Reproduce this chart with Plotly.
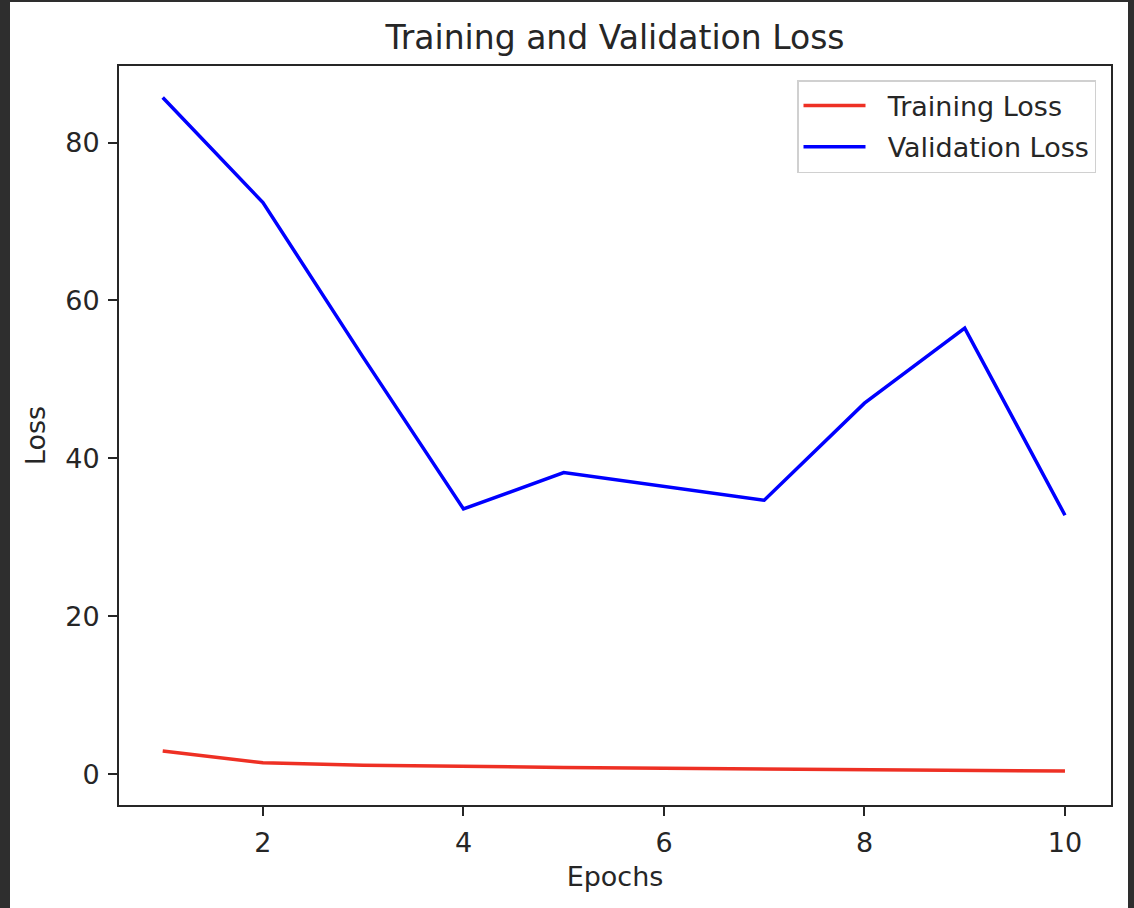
import plotly.graph_objects as go

# Loss values per epoch
epochs = [1, 2, 3, 4, 5, 6, 7, 8, 9, 10]
train_loss = [2.95, 1.45, 1.15, 0.95, 0.85, 0.75, 0.65, 0.55, 0.45, 0.4]
val_loss = [85.7, 72.4, 52.8, 33.6, 38.2, 36.4, 34.7, 47.0, 56.5, 32.8]

x_ticks = [2, 4, 6, 8, 10]
y_ticks = [0, 20, 40, 60, 80]

FONT = "DejaVu Sans"
TXT = "#262626"
W, H = 1134, 908
L, R, T, B = 119, 23, 66, 103
pw, ph = W - L - R, H - T - B


def px_x(p):
    """pixel -> paper x"""
    return (p - L) / pw


def px_y(p):
    """pixel (from top) -> paper y"""
    return 1 - (p - T) / ph


fig = go.Figure()
fig.add_trace(go.Scatter(x=epochs, y=train_loss, mode="lines",
                         name="\u00a0\u00a0Training Loss", legendgroup="train",
                         line=dict(color="#ee3024", width=3.5)))
fig.add_trace(go.Scatter(x=epochs, y=val_loss, mode="lines",
                         name="\u00a0\u00a0Validation Loss", legendgroup="val",
                         line=dict(color="#0000ff", width=3.5)))

axis_common = dict(
    showgrid=False, zeroline=False, showline=True, mirror=True,
    linecolor=TXT, linewidth=1.8,
    ticks="outside", ticklen=9, tickwidth=1.8, tickcolor=TXT,
    tickfont=dict(family=FONT, size=27, color=TXT),
)

fig.update_layout(
    width=W, height=H,
    margin=dict(l=L, r=R, t=T, b=B),
    paper_bgcolor="white", plot_bgcolor="white",
    font=dict(family=FONT, color=TXT),
    title=dict(text="Training and Validation Loss", x=0.5, xref="paper", xanchor="center",
               y=1 - 37 / H, yanchor="middle",
               font=dict(family=FONT, size=33, color=TXT)),
    xaxis=dict(range=[0.564, 10.459], tickvals=x_ticks,
               title=dict(text="Epochs", standoff=10, font=dict(family=FONT, size=27)),
               ticklabelstandoff=4, **axis_common),
    yaxis=dict(range=[-3.9, 89.7], tickvals=y_ticks,
               title=dict(text="Loss", standoff=12, font=dict(family=FONT, size=27)),
               ticklabelstandoff=3, **axis_common),
    legend=dict(x=px_x(1096), xanchor="right", y=px_y(80), yanchor="top",
                bgcolor="rgba(255,255,255,0.8)", bordercolor="#d0d0d0", borderwidth=1.5,
                font=dict(family=FONT, size=27, color=TXT),
                itemwidth=62, tracegroupgap=3),
    showlegend=True,
)

# dark screenshot edges around the figure
edge = "#2e2e2e"
fig.add_shape(type="rect", xref="paper", yref="paper", layer="above",
              x0=px_x(0), x1=px_x(10), y0=px_y(H), y1=px_y(0),
              fillcolor=edge, line=dict(width=0))
fig.add_shape(type="rect", xref="paper", yref="paper", layer="above",
              x0=px_x(1128), x1=px_x(W), y0=px_y(H), y1=px_y(0),
              fillcolor=edge, line=dict(width=0))
fig.add_shape(type="rect", xref="paper", yref="paper", layer="above",
              x0=px_x(0), x1=px_x(W), y0=px_y(2), y1=px_y(0),
              fillcolor=edge, line=dict(width=0))

# drop the default page margin so the figure sits at the window's corner
fig.write_html("out.html", config={"displayModeBar": False},
               post_script="document.body.style.margin='0';")
